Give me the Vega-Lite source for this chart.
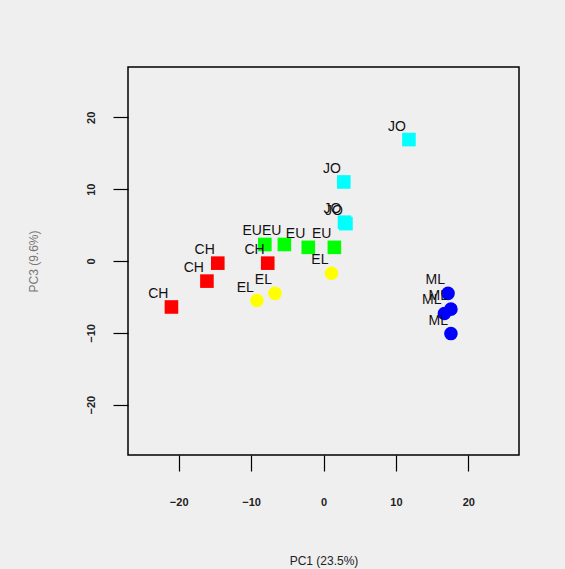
{
  "$schema": "https://vega.github.io/schema/vega-lite/v6.json",
  "width": 391,
  "height": 388,
  "autosize": "none",
  "padding": {"left": 128, "top": 67, "right": 46, "bottom": 114},
  "background": "#f0eff0",
  "config": {
    "view": {"stroke": "#000000", "strokeWidth": 1.5, "fill": "#f0eff0"},
    "font": "Liberation Sans"
  },
  "data": {
    "values": [
      {"pop": "CH", "pc1": -14.6, "pc3": -0.3},
      {"pop": "CH", "pc1": -16.1, "pc3": -2.8},
      {"pop": "CH", "pc1": -21.0, "pc3": -6.4},
      {"pop": "CH", "pc1": -7.7, "pc3": -0.3},
      {"pop": "EU", "pc1": -8.1, "pc3": 2.3},
      {"pop": "EU", "pc1": -5.4, "pc3": 2.3},
      {"pop": "EU", "pc1": -2.1, "pc3": 1.9},
      {"pop": "EU", "pc1": 1.5, "pc3": 1.9},
      {"pop": "EL", "pc1": -9.2, "pc3": -5.5},
      {"pop": "EL", "pc1": -6.7, "pc3": -4.5},
      {"pop": "EL", "pc1": 1.1, "pc3": -1.7},
      {"pop": "JO", "pc1": 11.8, "pc3": 16.9},
      {"pop": "JO", "pc1": 2.8, "pc3": 11.0},
      {"pop": "JO", "pc1": 3.1, "pc3": 5.2},
      {"pop": "JO", "pc1": 2.9, "pc3": 5.4},
      {"pop": "ML", "pc1": 17.2, "pc3": -4.5},
      {"pop": "ML", "pc1": 17.6, "pc3": -6.7},
      {"pop": "ML", "pc1": 16.7, "pc3": -7.3},
      {"pop": "ML", "pc1": 17.6, "pc3": -10.1}
    ]
  },
  "encoding": {
    "x": {
      "field": "pc1", "type": "quantitative",
      "scale": {"domain": [-27, 27], "nice": false, "zero": false},
      "axis": {
        "values": [-20, -10, 0, 10, 20],
        "grid": false, "domain": false,
        "tickSize": 16, "tickColor": "#000000", "tickWidth": 1.2,
        "labelFontSize": 11, "labelFontWeight": "bold", "labelColor": "#222222", "labelPadding": 25,
        "title": "PC1 (23.5%)", "titleFontSize": 12, "titleFontWeight": "normal",
        "titleColor": "#222222", "titleY": 105, "titleBaseline": "middle"
      }
    },
    "y": {
      "field": "pc3", "type": "quantitative",
      "scale": {"domain": [-27, 27], "nice": false, "zero": false},
      "axis": {
        "values": [-20, -10, 0, 10, 20],
        "grid": false, "domain": false,
        "tickSize": 15, "tickColor": "#000000", "tickWidth": 1.2,
        "labelFontSize": 11, "labelFontWeight": "bold", "labelColor": "#222222", "labelPadding": 22,
        "labelAngle": -90, "labelAlign": "center", "labelBaseline": "middle",
        "title": "PC3 (9.6%)", "titleFontSize": 12, "titleFontWeight": "normal",
        "titleColor": "#777777", "titleX": -95, "titleY": 194, "titleAngle": -90,
        "titleBaseline": "middle", "titleAlign": "center"
      }
    }
  },
  "layer": [
    {
      "mark": {"type": "point", "filled": true, "opacity": 1},
      "encoding": {
        "color": {
          "field": "pop", "type": "nominal", "legend": null,
          "scale": {"domain": ["CH", "EU", "EL", "JO", "ML"], "range": ["#ff0000", "#00ff00", "#ffff00", "#00ffff", "#0000ff"]}
        },
        "shape": {
          "field": "pop", "type": "nominal", "legend": null,
          "scale": {"domain": ["CH", "EU", "EL", "JO", "ML"], "range": ["square", "square", "circle", "square", "circle"]}
        },
        "size": {"value": 185}
      }
    },
    {
      "mark": {"type": "text", "align": "right", "baseline": "alphabetic", "dx": -3, "dy": -9, "fontSize": 14, "color": "#111111"},
      "encoding": {"text": {"field": "pop", "type": "nominal"}}
    }
  ]
}
